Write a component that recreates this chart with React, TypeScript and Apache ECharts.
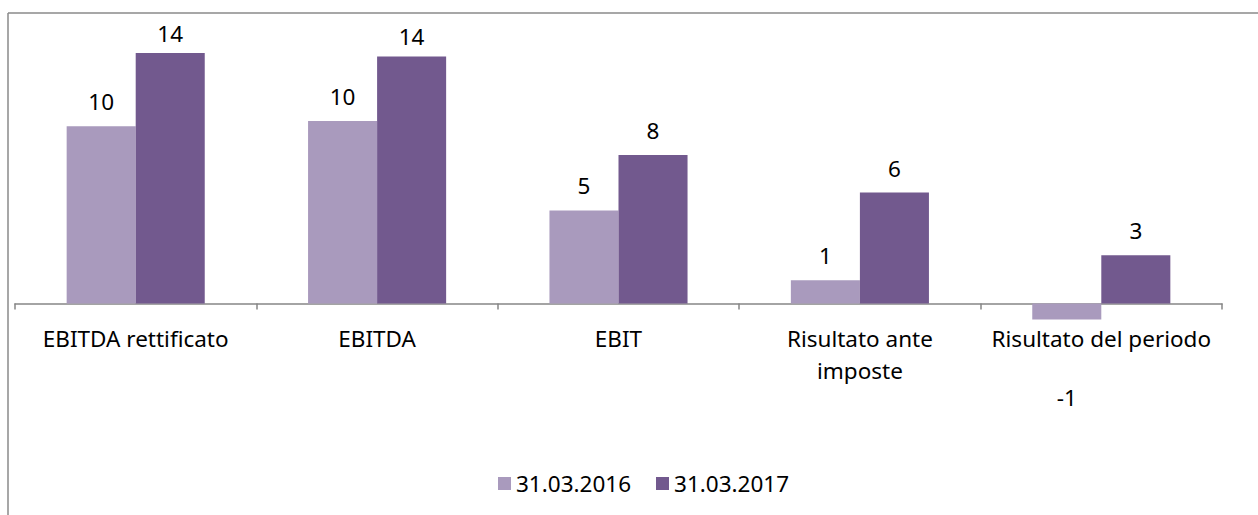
import React, { useEffect, useRef } from "react";
import * as echarts from "echarts";

const categories = ["EBITDA rettificato", "EBITDA", "EBIT", "Risultato ante imposte", "Risultato del periodo"];
const seriesNames = ["31.03.2016", "31.03.2017"];
const values2016 = [9.9, 10.2, 5.2, 1.3, -0.9];
const values2017 = [14.0, 13.8, 8.3, 6.2, 2.7];

const FONT = "'Noto Sans', 'Open Sans', sans-serif";
const FS = 22.5;
const C2016 = "#A99ABD";
const C2017 = "#72598E";

function buildData(vals: number[]) {
  return vals.map((v) => {
    if (v < 0) {
      return { value: v, label: { position: "bottom", distance: 66 } };
    }
    if (v >= 13.5) {
      return { value: v, label: { distance: 8 } };
    }
    return { value: v };
  });
}

export default function App() {
  const ref = useRef<HTMLDivElement>(null);
  useEffect(() => {
    if (!ref.current) return;
    const chart = echarts.init(ref.current, null, { renderer: "svg" });
    const labelCommon = {
      show: true,
      position: "top",
      distance: 13,
      color: "#000",
      fontSize: FS,
      fontFamily: FONT,
      formatter: (p: any) => String(Math.round(p.value)),
    };
    chart.setOption({
      animation: false,
      backgroundColor: "#fff",
      graphic: [
        { type: "line", shape: { x1: 8, y1: 13, x2: 1258, y2: 13 }, style: { stroke: "#8a8a8a", lineWidth: 1.5 } },
        { type: "line", shape: { x1: 8, y1: 13, x2: 8, y2: 515 }, style: { stroke: "#8a8a8a", lineWidth: 1.5 } },
      ],
      grid: { left: 15, right: 36, top: 17.1, height: 286.4, containLabel: false },
      legend: {
        bottom: 15,
        left: 493,
        itemWidth: 13,
        itemHeight: 13,
        itemGap: 25,
        icon: "rect",
        textStyle: { fontSize: FS, fontFamily: FONT, color: "#000" },
        data: seriesNames,
      },
      xAxis: {
        type: "category",
        data: categories,
        axisLine: { show: true, onZero: true, lineStyle: { color: "#868686", width: 1.5 } },
        axisTick: { show: true, length: 6, inside: false, lineStyle: { color: "#868686", width: 1.5 } },
        axisLabel: {
          margin: 19,
          fontSize: FS,
          fontFamily: FONT,
          color: "#000",
          lineHeight: 32,
          interval: 0,
          formatter: (v: string) => (v === "Risultato ante imposte" ? "Risultato ante\nimposte" : v),
        },
      },
      yAxis: {
        type: "value",
        min: 0,
        max: 16,
        show: false,
        splitLine: { show: false },
      },
      series: [
        {
          name: seriesNames[0],
          type: "bar",
          clip: false,
          data: buildData(values2016),
          itemStyle: { color: C2016 },
          barGap: "0%",
          barCategoryGap: "42.8%",
          label: labelCommon,
        },
        {
          name: seriesNames[1],
          type: "bar",
          clip: false,
          data: buildData(values2017),
          itemStyle: { color: C2017 },
          barGap: "0%",
          barCategoryGap: "42.8%",
          label: labelCommon,
        },
      ],
    });
    return () => chart.dispose();
  }, []);
  return <div ref={ref} style={{ position: "fixed", left: 0, top: 0, width: 1258, height: 515 }} />;
}
